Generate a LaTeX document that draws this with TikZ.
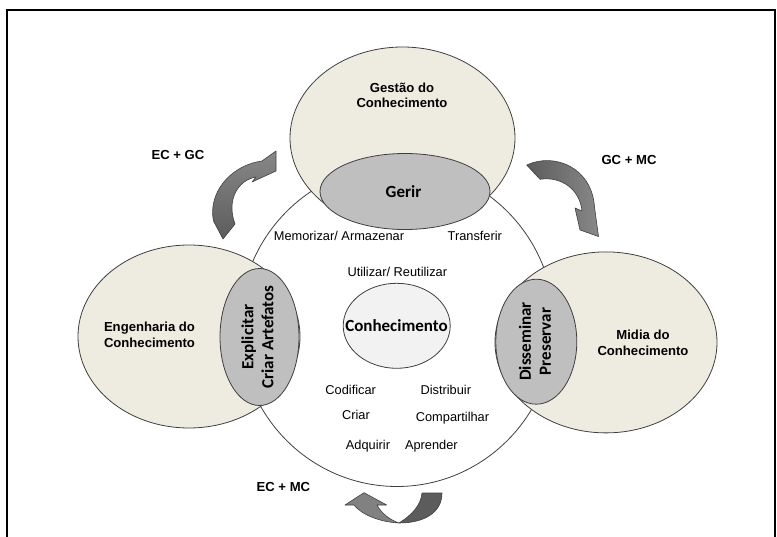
\documentclass[tikz,border=0pt]{standalone}
\usepackage{fontspec}
\setmainfont{Liberation Sans}
\newfontfamily\calibrifont{Carlito}
\usetikzlibrary{shapes.geometric}

\definecolor{beige}{HTML}{EEECE1}
\definecolor{midgray}{HTML}{BFBFBF}
\definecolor{lightfill}{HTML}{F2F2F2}
\definecolor{edge}{HTML}{3F3F3F}
\definecolor{arrowdark}{HTML}{5C5C5C}
\definecolor{arrowlight}{HTML}{888888}
\definecolor{arrowedge}{HTML}{404040}

\begin{document}
\begin{tikzpicture}[x=1pt,y=-1pt,
  blob/.style={ellipse, draw=edge, line width=0.8pt, inner sep=0pt},
  plain/.style={font=\fontsize{12.8}{15}\selectfont, inner sep=0pt,
    text height=9.2pt, text depth=0pt},
  boldlbl/.style={font=\fontsize{13.1}{15.5}\selectfont\bfseries, inner sep=0pt,
    text height=9.4pt, text depth=0pt},
  twoline/.style={font=\fontsize{13.1}{15.5}\selectfont\bfseries, inner sep=0pt,
    align=center},
  sidelbl/.style={font=\calibrifont\bfseries\fontsize{17}{20}\selectfont,
    inner sep=0pt, align=center, rotate=90},
  arrowbody/.style={draw=arrowedge, line width=0.6pt, line join=round}
]
\useasboundingbox (0,0) rectangle (777,537);

% outer frame
\draw[line width=1.3pt] (7,560) -- (7,10) -- (775,10) -- (775,560);

% central cycle
\node[blob, fill=white, minimum width=315pt, minimum height=321pt] (cycle) at (397,326) {};

% the three disciplines with their overlapping activities
\node[blob, fill=beige, minimum width=225pt, minimum height=182pt] (gc) at (402.5,138) {};
\node[blob, fill=midgray, minimum width=170pt, minimum height=76pt] (gerir) at (405,191.5) {};

\node[blob, fill=beige, minimum width=222pt, minimum height=183pt] (ec) at (189,336.5) {};
\node[blob, fill=midgray, minimum width=79pt, minimum height=137pt] (explicitar) at (259.5,337) {};

\node[blob, fill=beige, minimum width=222pt, minimum height=181pt] (mc) at (606,342.4) {};
\node[blob, fill=midgray, minimum width=81pt, minimum height=125pt] (disseminar) at (536.3,341.7) {};

% knowledge core
\node[blob, fill=lightfill, minimum width=107pt, minimum height=85pt] (core) at (396.7,325.8) {};

% labels of the disciplines
\node[twoline] (gclbl) at (402,95.5) {Gestão do\\Conhecimento};
\node[twoline] (eclbl) at (149.5,335) {Engenharia do\\Conhecimento};
\node[twoline] (mclbl) at (643,343) {Midia do\\Conhecimento};

\node[font=\calibrifont\bfseries\fontsize{17}{20}\selectfont, inner sep=0pt,
  text height=11pt, text depth=0pt] (gerirlbl) at (403.5,192) {Gerir};
\node[font=\calibrifont\bfseries\fontsize{17}{20}\selectfont, inner sep=0pt,
  text height=11pt, text depth=0pt] (corelbl) at (396.5,326.5) {Conhecimento};
\node[sidelbl] (explbl) at (257.5,337) {Explicitar\\Criar Artefatos};
\node[sidelbl] (dislbl) at (535,341.5) {Disseminar\\Preservar};

% activities inside the cycle
\node[plain] (memorizar) at (339,235.6) {Memorizar/ Armazenar};
\node[plain] (transferir) at (474.8,235.6) {Transferir};
\node[plain] (utilizar) at (397.3,272.3) {Utilizar/ Reutilizar};
\node[plain] (codificar) at (350.7,389.7) {Codificar};
\node[plain] (distribuir) at (445.8,389.7) {Distribuir};
\node[plain] (criar) at (356,415) {Criar};
\node[plain] (compartilhar) at (452.5,416.5) {Compartilhar};
\node[plain] (adquirir) at (368,445.2) {Adquirir};
\node[plain] (aprender) at (431.4,445.2) {Aprender};

% pair labels
\node[boldlbl] (ecgc) at (178,155) {EC + GC};
\node[boldlbl] (gcmc) at (629,160) {GC + MC};
\node[boldlbl] (ecmc) at (283.4,486.3) {EC + MC};

% curved arrow from EC towards GC
\path[arrowbody, top color=arrowlight, bottom color=arrowdark]
  (223,239) -- (213.5,221)
  .. controls (208,195) and (228,166) .. (262,161)
  -- (276,151) -- (276,171) -- (252,182) -- (256,177)
  .. controls (238,180) and (226,200) .. (235,224) -- cycle;

% curved arrow from GC towards MC
\path[arrowbody, left color=arrowdark, right color=arrowlight]
  (526.7,165)
  .. controls (555,152) and (592,168) .. (594.5,207)
  -- (598.5,236.5) -- (580,230) -- (575,208) -- (582,211)
  .. controls (580,190) and (562,176) .. (540,179.3) -- cycle;

% U-turn arrow between EC and MC
\path[arrowbody, fill=arrowdark]
  (422,493) -- (442,493)
  .. controls (442,512) and (425,523) .. (399,523)
  .. controls (412,515) and (421,505) .. (422,493) -- cycle;
\path[arrowbody, fill=arrowlight!85!arrowdark]
  (399,523)
  .. controls (380,522) and (362,515) .. (354,505)
  -- (345,505) -- (364,492.7) -- (386.7,505) -- (377,505)
  .. controls (381,513) and (390,520) .. (399,523) -- cycle;
\end{tikzpicture}
\end{document}
